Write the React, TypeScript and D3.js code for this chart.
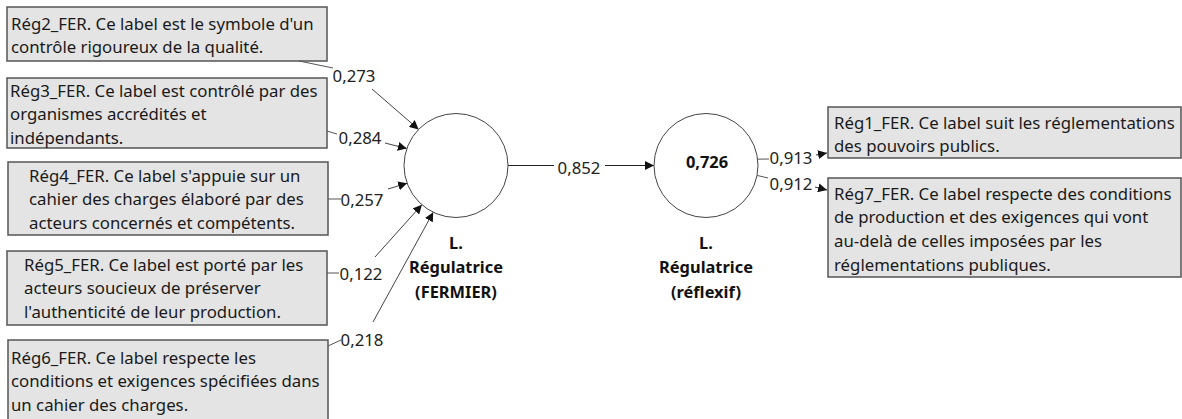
import React from 'react';
import * as d3 from 'd3';

// indicateurs formatifs (gauche)
const leftIds = ['Rég2_FER', 'Rég3_FER', 'Rég4_FER', 'Rég5_FER', 'Rég6_FER'];
const leftTexts = [
  ['Ce label est le symbole d\'un', 'contrôle rigoureux de la qualité.'],
  ['Ce label est contrôlé par des', 'organismes accrédités et', 'indépendants.'],
  ['Ce label s\'appuie sur un', 'cahier des charges élaboré par des', 'acteurs concernés et compétents.'],
  ['Ce label est porté par les', 'acteurs soucieux de préserver', 'l\'authenticité de leur production.'],
  ['Ce label respecte les', 'conditions et exigences spécifiées dans', 'un cahier des charges.'],
];
const leftWeights = [0.273, 0.284, 0.257, 0.122, 0.218];

// indicateurs réflexifs (droite)
const rightIds = ['Rég1_FER', 'Rég7_FER'];
const rightTexts = [
  ['Ce label suit les réglementations', 'des pouvoirs publics.'],
  ['Ce label respecte des conditions', 'de production et des exigences qui vont', 'au-delà de celles imposées par les', 'réglementations publiques.'],
];
const rightLoadings = [0.913, 0.912];

const constructNames = [['L.', 'Régulatrice', '(FERMIER)'], ['L.', 'Régulatrice', '(réflexif)']];
const pathCoef = 0.852;
const rSquared = 0.726;

const W = 1182;
const H = 419;
const FONT = '"Noto Sans", "Open Sans", sans-serif';
const FS = 16.8;
const fmt = (v: number) => d3.format('.3f')(v).replace('.', ',');

// mise en page du diagramme
const circleR = 52;
const circles = [{ cx: 456, cy: 165.5 }, { cx: 706, cy: 165.5 }];
const leftLayout = [
  { box: [7, 7, 320, 54], tx: 11, ty: 23, from: [299, 61], lab0: [333, 68], lab: [354, 75], lab1: [372, 89], angle: -136 },
  { box: [7, 78, 320, 70], tx: 10, ty: 90, from: [327, 131], lab0: [337, 134], lab: [360, 137], lab1: [385, 143], angle: -161 },
  { box: [8, 162, 320, 73], tx: 29, ty: 175, from: [328, 199], lab0: [341, 199], lab: [362, 199], lab1: [388, 189], angle: 160 },
  { box: [7, 251, 320, 74], tx: 24, ty: 264, from: [327, 273], lab0: [339, 273], lab: [361, 273], lab1: [375, 257], angle: 131 },
  { box: [8, 340, 320, 95], tx: 11, ty: 357, from: [328, 346], lab0: [341, 340], lab: [362, 339], lab1: [373, 322], angle: 116 },
];
const rightLayout = [
  { box: [828, 107, 353, 51], tx: 834, ty: 122, angle: -7, lab0: [769, 159], lab: [791, 157], lab1: [816, 155], to: [827, 153] },
  { box: [828, 178, 353, 99], tx: 834, ty: 193, angle: 11, lab0: [768, 178], lab: [791, 183], lab1: [815, 187], to: [827, 190] },
];
const lineH = 23.8;

const seg = d3.line<number[]>().x(d => d[0]).y(d => d[1]);
const onCircle = (c: { cx: number; cy: number }, deg: number) => {
  const a = (deg * Math.PI) / 180;
  return [c.cx + circleR * Math.cos(a), c.cy + circleR * Math.sin(a)];
};

function Box({ rect, tx, ty, id, lines }: { rect: number[]; tx: number; ty: number; id: string; lines: string[] }) {
  const [x, y, w, h] = rect;
  return (
    <g>
      <rect x={x} y={y} width={w} height={h} fill="#e4e4e4" stroke="#555" strokeWidth={1.5} />
      {lines.map((l, i) => (
        <text key={i} x={tx} y={ty + i * lineH} dominantBaseline="central" fontSize={FS} fill="#1a1a1a">
          {i === 0 ? `${id}. ${l}` : l}
        </text>
      ))}
    </g>
  );
}

export default function App() {
  const [c0, c1] = circles;
  const pathStart = onCircle(c0, 0);
  const pathEnd = onCircle(c1, 180);
  const pathLabX = d3.mean([pathStart[0], pathEnd[0]]) as number;

  return (
    <svg width={W} height={H} style={{ position: 'absolute', left: 0, top: 0, background: '#fff', fontFamily: FONT }}>
      <defs>
        <marker id="arr" viewBox="0 0 10 10" refX={10} refY={5} markerWidth={9} markerHeight={9} markerUnits="userSpaceOnUse" orient="auto">
          <path d="M0,0 L10,5 L0,10 z" fill="#111" />
        </marker>
      </defs>

      {/* indicateurs de gauche */}
      {leftIds.map((id, i) => {
        const L = leftLayout[i];
        const tip = onCircle(c0, L.angle);
        return (
          <g key={id}>
            <Box rect={L.box} tx={L.tx} ty={L.ty} id={id} lines={leftTexts[i]} />
            <path d={seg([L.from, L.lab0]) as string} stroke="#555" strokeWidth={1} fill="none" />
            <path d={seg([L.lab1, tip]) as string} stroke="#444" strokeWidth={1} fill="none" markerEnd="url(#arr)" />
            <text x={L.lab[0]} y={L.lab[1]} textAnchor="middle" dominantBaseline="central" fontSize={FS} fill="#222">
              {fmt(leftWeights[i])}
            </text>
          </g>
        );
      })}

      {/* coefficient de chemin */}
      <path d={seg([pathStart, [pathLabX - 27, pathStart[1]]]) as string} stroke="#222" strokeWidth={1} />
      <path d={seg([[pathLabX + 24, pathEnd[1]], pathEnd]) as string} stroke="#222" strokeWidth={1} markerEnd="url(#arr)" />
      <text x={pathLabX - 2} y={c0.cy + 1.5} textAnchor="middle" dominantBaseline="central" fontSize={FS} fill="#222">
        {fmt(pathCoef)}
      </text>

      {/* construits */}
      {circles.map((c, i) => (
        <g key={i}>
          <circle cx={c.cx} cy={c.cy} r={circleR} fill="#fff" stroke="#444" strokeWidth={1} />
          {constructNames[i].map((t, j) => (
            <text key={j} x={c.cx} y={242 + j * 24.5} textAnchor="middle" dominantBaseline="central" fontSize={16.4} fontWeight="bold" fill="#111">
              {t}
            </text>
          ))}
        </g>
      ))}
      <text x={c1.cx + 1} y={c1.cy - 4} textAnchor="middle" dominantBaseline="central" fontSize={16.4} fontWeight="bold" fill="#111">
        {fmt(rSquared)}
      </text>

      {/* indicateurs de droite */}
      {rightIds.map((id, i) => {
        const L = rightLayout[i];
        const start = onCircle(c1, L.angle);
        return (
          <g key={id}>
            <Box rect={L.box} tx={L.tx} ty={L.ty} id={id} lines={rightTexts[i]} />
            <path d={seg([start, L.lab0]) as string} stroke="#555" strokeWidth={1} fill="none" />
            <path d={seg([L.lab1, L.to]) as string} stroke="#333" strokeWidth={1} fill="none" markerEnd="url(#arr)" />
            <text x={L.lab[0]} y={L.lab[1]} textAnchor="middle" dominantBaseline="central" fontSize={FS} fill="#222">
              {fmt(rightLoadings[i])}
            </text>
          </g>
        );
      })}
    </svg>
  );
}
